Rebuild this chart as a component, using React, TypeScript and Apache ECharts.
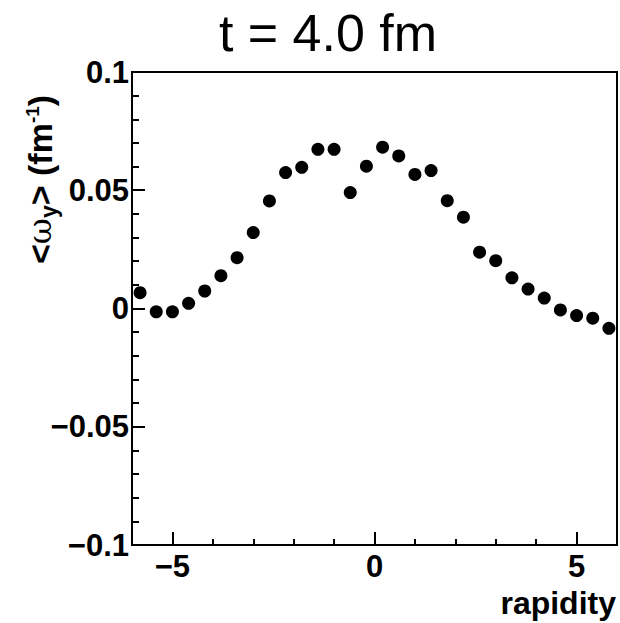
import React, { useEffect, useRef } from "react";
import * as echarts from "echarts";

const rapidity = [
  -5.8, -5.4, -5.0, -4.6, -4.2, -3.8, -3.4, -3.0, -2.6, -2.2, -1.8, -1.4, -1.0, -0.6, -0.2,
  0.2, 0.6, 1.0, 1.4, 1.8, 2.2, 2.6, 3.0, 3.4, 3.8, 4.2, 4.6, 5.0, 5.4, 5.8,
];
const omegaY = [
  0.0067, -0.0014, -0.0014, 0.0022, 0.0074, 0.0139, 0.0215, 0.0321, 0.0455, 0.0575,
  0.0597, 0.0673, 0.0673, 0.049, 0.0602, 0.0682, 0.0645, 0.0567, 0.0583, 0.0456,
  0.0386, 0.0238, 0.0202, 0.013, 0.0082, 0.0044, -0.0006, -0.003, -0.0041, -0.0084,
];
const xMajorTicks = [-5, 0, 5];
const xMinorTicks = [-4, -3, -2, -1, 1, 2, 3, 4];
const titleText = "t = 4.0 fm";
const xTitle = "rapidity";

const FONT = "'Liberation Sans', Arial, Helvetica, sans-serif";
const fmtNum = (v: number) => {
  const n = Number(v.toFixed(3));
  const s = String(Math.abs(n));
  return n < 0 ? "\u2212" + s : s;
};

export default function App() {
  const ref = useRef<HTMLDivElement>(null);
  useEffect(() => {
    if (!ref.current) return;
    const chart = echarts.init(ref.current, null, { renderer: "svg" });
    const data = rapidity.map((x, i) => [x, omegaY[i]]);
    const labelStyle = { color: "#000", fontFamily: FONT, fontWeight: "bold" as const, fontSize: 31 };
    chart.setOption({
      animation: false,
      backgroundColor: "#fff",
      grid: {
        left: 132,
        right: 3,
        top: 72,
        bottom: 78,
        show: true,
        borderColor: "#000",
        borderWidth: 2,
        containLabel: false,
      },
      xAxis: [
        {
          type: "value",
          min: -6,
          max: 6,
          axisLine: { show: true, onZero: false, lineStyle: { color: "#000", width: 2 } },
          axisTick: { show: true, inside: true, length: 13, customValues: xMajorTicks, lineStyle: { color: "#000", width: 2 } },
          axisLabel: { ...labelStyle, margin: 7, lineHeight: 28, customValues: xMajorTicks, formatter: (v: number) => fmtNum(v) },
          splitLine: { show: false },
        },
        {
          type: "value",
          min: -6,
          max: 6,
          position: "bottom",
          offset: 0,
          axisLine: { show: false, onZero: false },
          axisTick: { show: true, inside: true, length: 6, customValues: xMinorTicks, lineStyle: { color: "#000", width: 2 } },
          axisLabel: { show: false },
          splitLine: { show: false },
        },
      ],
      yAxis: {
        type: "value",
        min: -0.1,
        max: 0.1,
        interval: 0.05,
        axisLine: { show: true, onZero: false, lineStyle: { color: "#000", width: 2 } },
        axisTick: { show: true, inside: true, length: 13, lineStyle: { color: "#000", width: 2 } },
        minorTick: { show: true, splitNumber: 5, length: 7, lineStyle: { color: "#000", width: 2 } },
        axisLabel: { ...labelStyle, margin: 3, showMinLabel: true, showMaxLabel: true, formatter: (v: number) => fmtNum(v) },
        splitLine: { show: false },
      },
      series: [
        {
          type: "scatter",
          xAxisIndex: 0,
          data,
          symbol: "circle",
          symbolSize: 13,
          itemStyle: { color: "#000", opacity: 1 },
        },
      ],
      graphic: [
        {
          type: "text",
          x: 328,
          y: 33,
          style: {
            text: titleText,
            fontFamily: FONT,
            fontSize: 52,
            fill: "#000",
            textAlign: "center",
            textVerticalAlign: "middle",
          },
        },
        {
          type: "text",
          x: 616,
          y: 603,
          style: {
            text: xTitle,
            fontFamily: FONT,
            fontWeight: "bold",
            fontSize: 32,
            lineHeight: 30,
            fill: "#000",
            textAlign: "right",
            textVerticalAlign: "middle",
          },
        },
        {
          type: "text",
          x: 40,
          y: 264,
          rotation: Math.PI / 2,
          style: {
            text: "{b|<}{w|\u03c9}{sub|y}{b|> (fm}{sup|-1}{b|)}",
            textAlign: "left",
            textVerticalAlign: "middle",
            fill: "#000",
            rich: {
              b: { fontFamily: FONT, fontWeight: "bold", fontSize: 34, fill: "#000" },
              w: { fontFamily: "'DejaVu Serif', 'Liberation Serif', serif", fontSize: 32, fill: "#000" },
              sub: { fontFamily: FONT, fontWeight: "bold", fontSize: 23, fill: "#000", padding: [17, 0, 0, 0] },
              sup: { fontFamily: FONT, fontWeight: "bold", fontSize: 19, fill: "#000", padding: [0, 0, 15, 0] },
            },
          },
        },
      ],
    });
    return () => chart.dispose();
  }, []);
  return <div ref={ref} style={{ position: "absolute", left: 0, top: 0, width: 620, height: 623 }} />;
}
